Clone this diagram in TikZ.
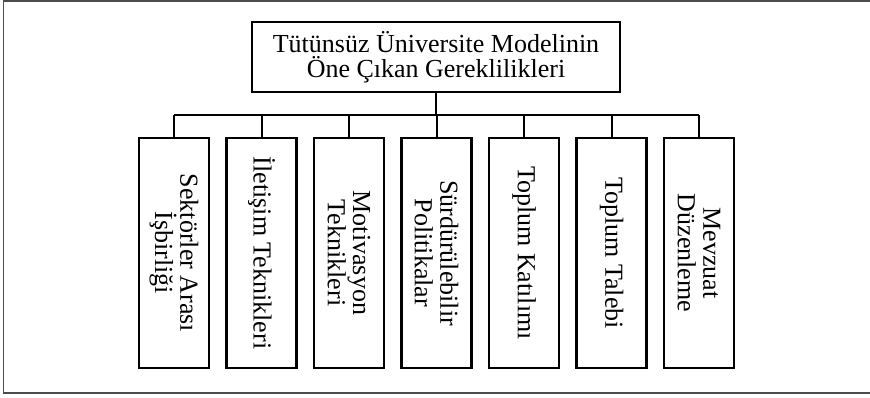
\documentclass[tikz,border=0pt]{standalone}
\usepackage{fontspec}
\setmainfont{Liberation Serif}
\usetikzlibrary{positioning}

\tikzset{
  kutu/.style={draw, line width=2pt, fill=white, align=center, inner sep=2pt,
    font=\fontsize{19.5pt}{19pt}\selectfont},
  dikkutu/.style={kutu, minimum width=230*0.75pt, minimum height=70*0.75pt, rotate=-90},
  baglanti/.style={line width=1.5pt},
}

\begin{document}
\begin{tikzpicture}[x=0.75pt, y=-0.75pt]
    % sayfa boyutu ve cerceve
    \useasboundingbox (0,0) rectangle (870,398);
    \draw[line width=1.3pt, gray!60!black] (873,0.8) -- (3.5,0.8) -- (3.5,393.2) -- (873,393.2);

    % ana kutu
    \node[kutu, minimum width=368*0.75pt, minimum height=70*0.75pt] (kok) at (436,57)
        {T\"ut\"uns\"uz \"Universite Modelinin\\\"One \c{C}\i kan Gereklilikleri};

    % alt kutular
    \foreach \k/\metin in {1/{Sekt\"orler Aras\i\\\.I\c{s}birli\u{g}i},
                          2/{\.Ileti\c{s}im Teknikleri},
                          3/{Motivasyon\\Teknikleri},
                          4/{S\"urd\"ur\"ulebilir\\Politikalar},
                          5/{Toplum Kat\i l\i m\i},
                          6/{Toplum Talebi},
                          7/{Mevzuat\\D\"uzenleme}} {
        \node[dikkutu] (c\k) at ({174+87.5*(\k-1)},253) {\metin};
    }

    % baglantilar
    \coordinate (bag) at (436,115);
    \draw[baglanti] (kok.south) -- (bag);
    \draw[baglanti] (c1.west |- bag) -- (c7.west |- bag);
    \foreach \k in {1,...,7} {
        \draw[baglanti] (c\k.west) -- (c\k.west |- bag);
    }
\end{tikzpicture}
\end{document}
